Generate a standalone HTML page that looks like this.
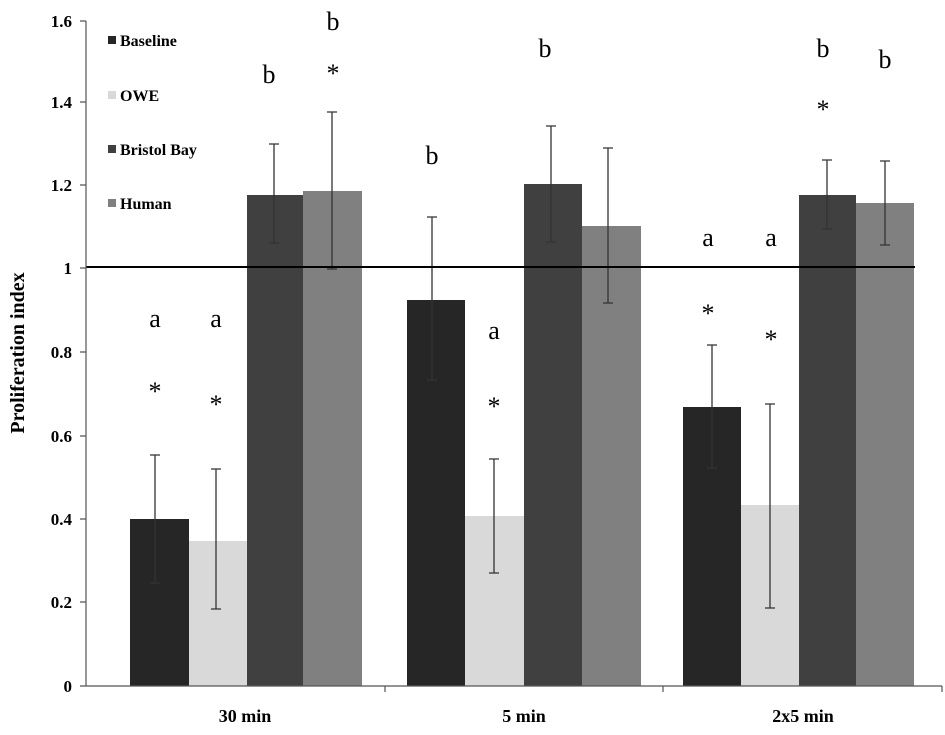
<!DOCTYPE html><html><head><style>body{margin:0;background:#fff}svg text{font-family:"Liberation Serif",serif}</style></head><body>
<svg width="945" height="730" xmlns="http://www.w3.org/2000/svg">
<g fill="#262626"><rect x="130" y="519" width="59" height="167"/><rect x="407" y="300" width="58" height="386"/><rect x="683" y="407" width="58" height="279"/></g>
<g fill="#d9d9d9"><rect x="189" y="541" width="58" height="145"/><rect x="465" y="516" width="59" height="170"/><rect x="741" y="505" width="58" height="181"/></g>
<g fill="#404040"><rect x="247" y="195" width="56" height="491"/><rect x="524" y="184" width="58" height="502"/><rect x="799" y="195" width="57" height="491"/></g>
<g fill="#808080"><rect x="303" y="191" width="59" height="495"/><rect x="582" y="226" width="59" height="460"/><rect x="856" y="203" width="58" height="483"/></g>
<g stroke="#333" stroke-width="1.3" fill="none">
<path d="M155 455V583M150 455h10M150 583h10"/>
<path d="M216 469V609M211 469h10M211 609h10"/>
<path d="M274 144V243M269 144h10M269 243h10"/>
<path d="M332 112V269M327 112h10M327 269h10"/>
<path d="M432 217V380M427 217h10M427 380h10"/>
<path d="M494 459V573M489 459h10M489 573h10"/>
<path d="M551 126V242M546 126h10M546 242h10"/>
<path d="M608 148V303M603 148h10M603 303h10"/>
<path d="M712 345V468M707 345h10M707 468h10"/>
<path d="M770 404V608M765 404h10M765 608h10"/>
<path d="M827 160V229M822 160h10M822 229h10"/>
<path d="M885 161V245M880 161h10M880 245h10"/>
</g>
<line x1="86" y1="267" x2="915" y2="267" stroke="#000" stroke-width="2"/>
<g stroke="#555" stroke-width="1.2"><line x1="86" y1="21" x2="86" y2="686"/><line x1="86" y1="686" x2="942" y2="686"/>
<path d="M80 21h6M80 102h6M80 185h6M80 268h6M80 352h6M80 436h6M80 519h6M80 602h6M80 686h6M385 686v6M663 686v6M942 686v6"/></g>
<g font-size="17" font-weight="bold" text-anchor="end"><text x="72" y="27">1.6</text><text x="72" y="108">1.4</text><text x="72" y="191">1.2</text><text x="72" y="274">1</text><text x="72" y="358">0.8</text><text x="72" y="442">0.6</text><text x="72" y="525">0.4</text><text x="72" y="608">0.2</text><text x="72" y="692">0</text></g>
<text transform="translate(24 353) rotate(-90)" font-size="20" font-weight="bold" text-anchor="middle">Proliferation index</text>
<g font-size="18" font-weight="bold" text-anchor="middle"><text x="245" y="722">30 min</text><text x="524" y="722">5 min</text><text x="803" y="722">2x5 min</text></g>
<g font-size="16" font-weight="bold"><rect x="108" y="36" width="8" height="8" fill="#262626"/><text x="120" y="46">Baseline</text>
<rect x="108" y="91" width="8" height="8" fill="#d9d9d9"/><text x="120" y="101">OWE</text>
<rect x="108" y="145" width="8" height="8" fill="#404040"/><text x="120" y="155">Bristol Bay</text>
<rect x="108" y="199" width="8" height="8" fill="#808080"/><text x="120" y="209">Human</text></g>
<g font-size="26" text-anchor="middle">
<text x="155" y="327">a</text><text x="216" y="327">a</text><text x="269" y="83">b</text><text x="333" y="30">b</text>
<text x="432" y="164">b</text><text x="494" y="339">a</text><text x="545" y="57">b</text>
<text x="708" y="246">a</text><text x="771" y="246">a</text><text x="823" y="57">b</text><text x="885" y="68">b</text>
<text x="155" y="400">*</text><text x="216" y="413">*</text><text x="333" y="82">*</text><text x="494" y="415">*</text><text x="708" y="322">*</text><text x="771" y="348">*</text><text x="823" y="118">*</text></g>
</svg></body></html>
